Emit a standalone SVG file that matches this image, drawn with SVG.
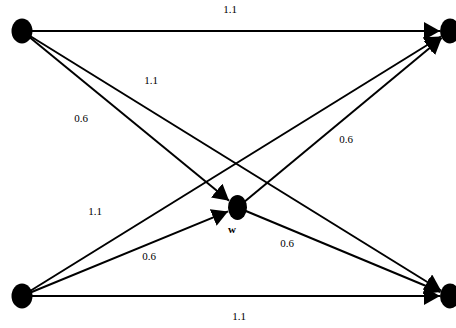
<svg xmlns="http://www.w3.org/2000/svg" width="456" height="328" viewBox="0 0 456 328">
<style>
.e{stroke:#000;stroke-width:2;fill:none;marker-end:url(#arr)}
.n{fill:#000}
.l{font-family:"Liberation Serif",serif;font-size:11px;fill:#000;text-anchor:middle}
.w{font-weight:bold}
</style>
<defs>
<marker id="arr" markerUnits="userSpaceOnUse" markerWidth="18" markerHeight="18" refX="16" refY="9" orient="auto"><path d="M0,0 L16,9 L0,18 z" fill="#000"/></marker>
</defs>
<rect width="456" height="328" fill="#fff"/>
<g id="connectors">
<line class="e" x1="22" y1="31" x2="440" y2="31"/>
<line class="e" x1="22" y1="31" x2="229.1" y2="200.7"/>
<line class="e" x1="22" y1="31" x2="441" y2="290.5"/>
<line class="e" x1="22" y1="296" x2="441" y2="36.5"/>
<line class="e" x1="22" y1="296" x2="228" y2="211.4"/>
<line class="e" x1="22" y1="296" x2="440" y2="296"/>
<line class="e" x1="237.5" y1="207.5" x2="441.7" y2="37.9"/>
<line class="e" x1="237.5" y1="207.5" x2="440.5" y2="292"/>
</g>
<g id="labels">
<text class="l" x="230" y="13">1.1</text>
<text class="l" x="151" y="84">1.1</text>
<text class="l" x="81" y="122">0.6</text>
<text class="l" x="346" y="143">0.6</text>
<text class="l" x="95" y="215">1.1</text>
<text class="l" x="149" y="260">0.6</text>
<text class="l" x="287" y="247">0.6</text>
<text class="l" x="239" y="320">1.1</text>
</g>
<g id="n1"><ellipse class="n" cx="22" cy="31" rx="10.5" ry="12.5"/></g>
<g id="n2"><ellipse class="n" cx="450" cy="31" rx="10" ry="12.5"/></g>
<g id="n3"><ellipse class="n" cx="22" cy="296" rx="10.5" ry="12.5"/></g>
<g id="n4"><ellipse class="n" cx="450" cy="296" rx="10" ry="12.5"/></g>
<g id="w"><ellipse class="n" cx="237.5" cy="207.5" rx="9.5" ry="12.5"/><text class="l w" x="232" y="233">w</text></g>
</svg>
